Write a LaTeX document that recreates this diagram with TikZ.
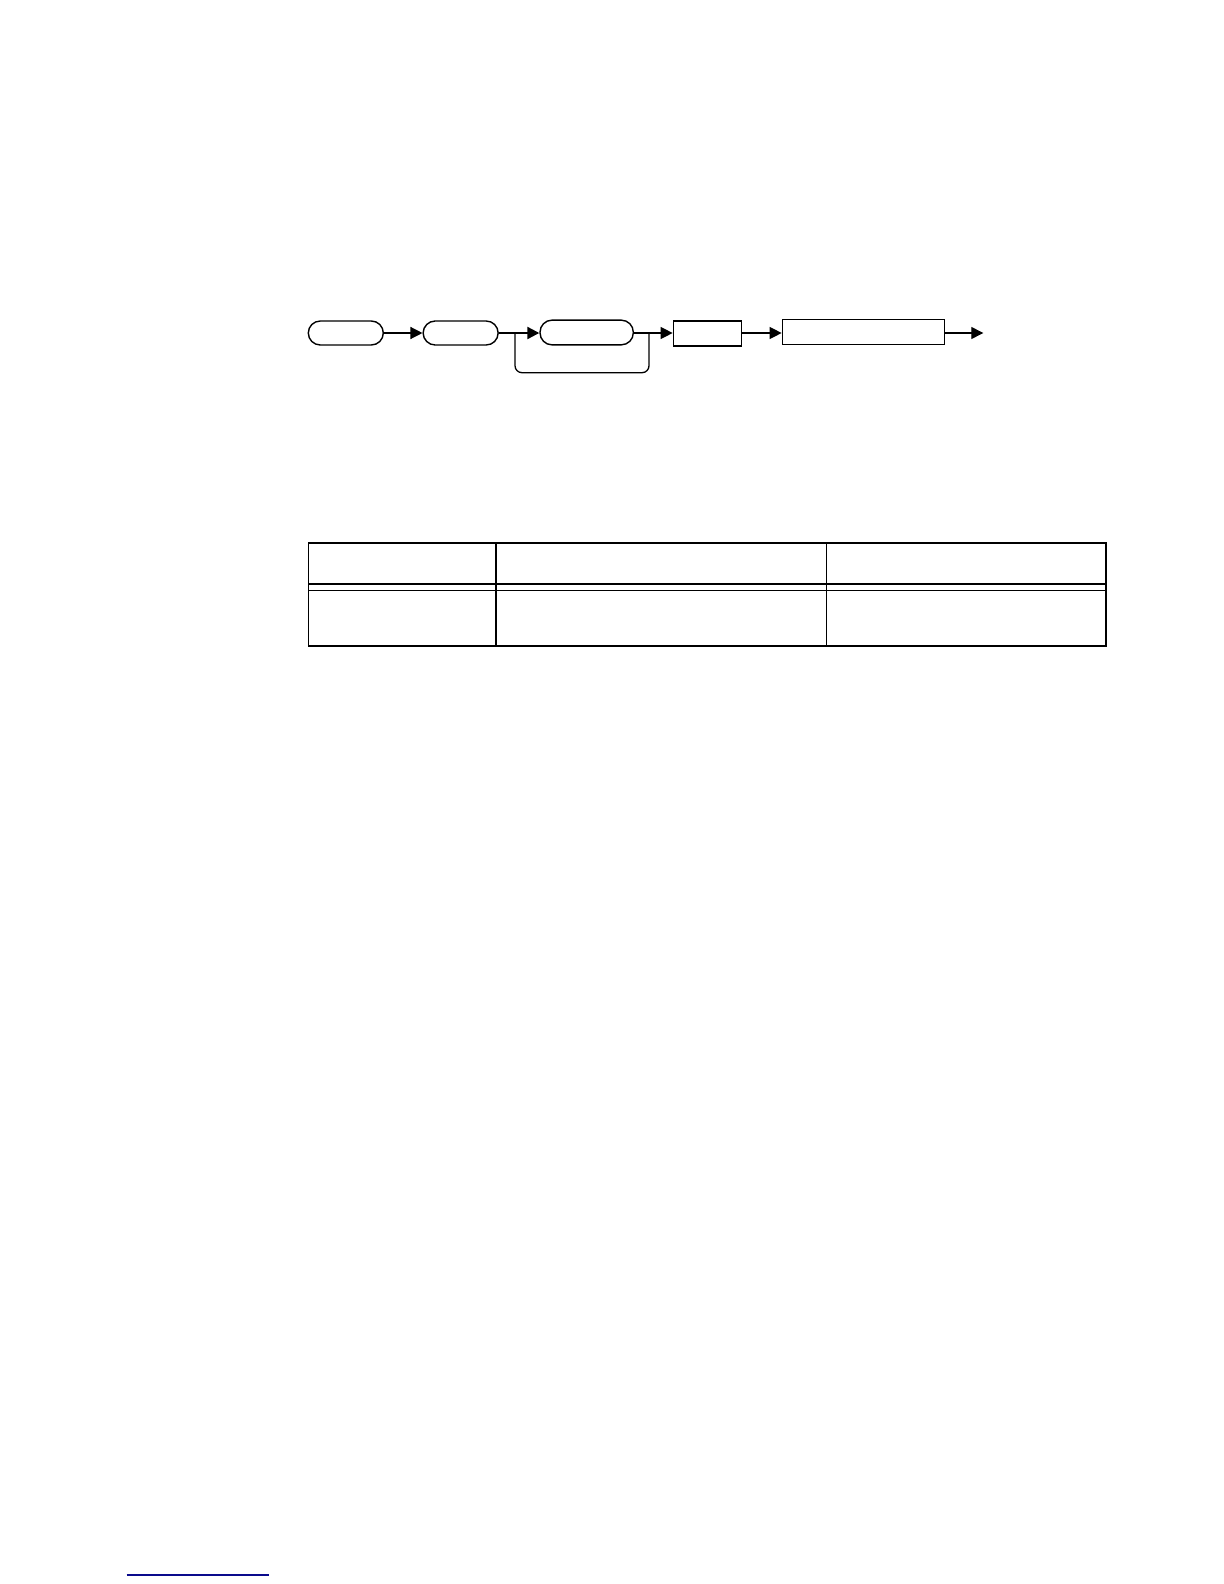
\documentclass[tikz,border=0pt]{standalone}
\usetikzlibrary{arrows.meta}
\definecolor{footblue}{RGB}{10,10,140}
\begin{document}
\begin{tikzpicture}[x=0.5pt,y=-0.5pt,
  rbox/.style={draw,line width=0.7pt,rounded corners=6pt,inner sep=0pt,minimum height=12pt},
  sbox/.style={draw,line width=0.65pt,inner sep=0pt,minimum height=12.5pt},
  conn/.style={line width=0.65pt,-{Triangle[length=6pt,width=6pt]}},
  heavyconn/.style={line width=1.1pt,-{Triangle[length=6pt,width=6pt]}},
  loopline/.style={line width=0.65pt,rounded corners=3.5pt},
  tabline/.style={line width=0.8pt}]
\useasboundingbox (0,0) rectangle (1224,1584);
% flow
\node[rbox,minimum width=37.5pt] (b1) at (345.8,333) {};
\node[rbox,minimum width=37.5pt] (b2) at (460.65,333) {};
\node[rbox,minimum width=46.65pt,minimum height=12.35pt] (b3) at (586.65,332.5) {};
\node[sbox,minimum width=34pt] (b4) at (707.3,333.5) {};
\node[sbox,minimum width=81pt] (b5) at (863.3,332) {};
\coordinate (jl) at (515,333);
\coordinate (jr) at (649,333);
\coordinate (out) at (983.3,333);
\draw[conn] (b1.east) -- (b1.east -| b2.west);
\draw[heavyconn] (b2.east) -- (b2.east -| b3.west);
\draw[conn] (b3.east |- jr) -- (jr -| b4.west);
\draw[loopline] (jl) -- (jl |- 0,372.7) -- (jr |- 0,372.7) -- (jr);
\draw[conn] (b4.east |- out) -- (out -| b5.west);
\draw[conn] (b5.east |- out) -- (out);
% table
\draw[tabline] (308.5,542.7) rectangle (1106,646);
\draw[tabline] (308.5,584) -- (1106,584);
\draw[tabline] (308.5,590.3) -- (1106,590.3);
\draw[tabline] (495.7,542.7) -- (495.7,646);
\draw[tabline] (826.3,542.7) -- (826.3,646);
% footnote rule
\draw[footblue,line width=0.7pt] (126.7,1575) -- (269,1575);
\end{tikzpicture}
\end{document}
